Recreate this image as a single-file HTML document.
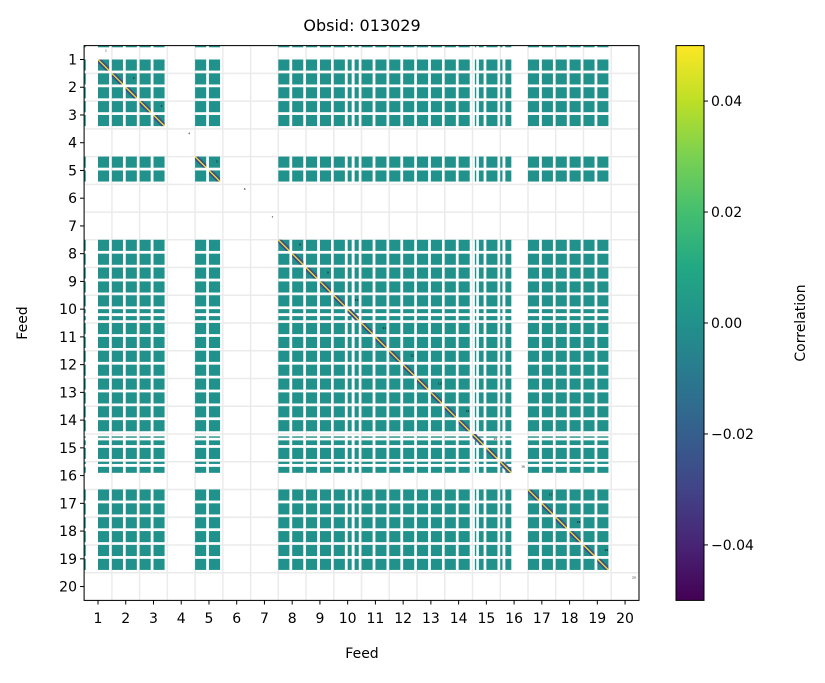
<!DOCTYPE html>
<html><head><meta charset="utf-8"><style>
body{margin:0;background:#fff;}
svg text{font-family:"DejaVu Sans","Liberation Sans",sans-serif;fill:#000;}
</style></head><body>
<svg id="chart" width="825" height="678" viewBox="0 0 825 678" xmlns="http://www.w3.org/2000/svg">
<defs>
<linearGradient id="viridis" x1="0" y1="1" x2="0" y2="0">
<stop offset="0" stop-color="#440154"/><stop offset="0.1" stop-color="#482475"/><stop offset="0.2" stop-color="#414487"/><stop offset="0.3" stop-color="#355f8d"/><stop offset="0.4" stop-color="#2a788e"/><stop offset="0.5" stop-color="#21918c"/><stop offset="0.6" stop-color="#22a884"/><stop offset="0.7" stop-color="#44bf70"/><stop offset="0.8" stop-color="#7ad151"/><stop offset="0.9" stop-color="#bddf26"/><stop offset="1" stop-color="#fde725"/>
</linearGradient>
<clipPath id="plotclip"><rect x="84.1" y="45.6" width="554.9" height="554.8"/></clipPath>
</defs>
<text x="362" y="31" font-size="16" text-anchor="middle">Obsid: 013029</text>
<g id="grid"></g>
<g id="cells" clip-path="url(#plotclip)"></g>
<rect x="84.1" y="45.6" width="554.9" height="554.8" fill="none" stroke="#000" stroke-width="1"/>
<g id="ticks"></g>
<text x="362" y="658" font-size="14" text-anchor="middle">Feed</text>
<text x="27" y="323" font-size="14" text-anchor="middle" transform="rotate(-90 27 323)">Feed</text>
<rect x="676" y="45.6" width="28" height="554.8" fill="url(#viridis)" stroke="#000" stroke-width="1"/>
<g id="cbticks"></g>
<text x="805" y="323" font-size="14" text-anchor="middle" transform="rotate(-90 805 323)">Correlation</text>
</svg>
<script>
const feeds = [1,2,3,4,5,6,7,8,9,10,11,12,13,14,15,16,17,18,19,20];
const validFeeds = [1,2,3,5,8,9,10,11,12,13,14,15,16,17,18,19];
const offDiagValues = [0,0,0,0,0,0,0,0,0,0,0,0,0,0,0,0,0,0,0,0];
const cbTicks = [-0.04,-0.02,0.00,0.02,0.04];
const cbTickLabels = ["\u22120.04","\u22120.02","0.00","0.02","0.04"];
const emptySubBlocks = [30];
const partialSubBlocks = {"-1":[[0,0.12]],"18":[[0,0.29],[0.5,0.8]],"27":[[0.17,0.27],[0.46,0.8]],"29":[[0,0.16],[0.37,0.8]]};
const cmin=-0.05, cmax=0.05;

const NS="http://www.w3.org/2000/svg";
const X0=98, Y0=59.5, STEP=27.74;
function xFeed(f){return X0+STEP*(f-1);}
function yFeed(f){return Y0+STEP*(f-1);}
function cbY(v){return 600.4-(v-cmin)/(cmax-cmin)*554.8;}
const vir=["#440154","#482475","#414487","#355f8d","#2a788e","#21918c","#22a884","#44bf70","#7ad151","#bddf26","#fde725"];
function hex(c){return [1,3,5].map(i=>parseInt(c.substr(i,2),16));}
function cmap(v){let t=Math.max(0,Math.min(1,(v-cmin)/(cmax-cmin)))*10;let i=Math.min(9,Math.floor(t)),u=t-i;
 const a=hex(vir[i]),b=hex(vir[i+1]);return "rgb("+a.map((x,k)=>Math.round(x+(b[k]-x)*u)).join(",")+")";}
function mk(tag,attrs,parent){const e=document.createElementNS(NS,tag);for(const k in attrs)e.setAttribute(k,attrs[k]);parent.appendChild(e);return e;}

const grid=document.getElementById('grid'),cells=document.getElementById('cells'),ticks=document.getElementById('ticks'),cbt=document.getElementById('cbticks');
for(let i=0;i<=20;i++){
 const gx=mk('line',{x1:xFeed(i+0.5),x2:xFeed(i+0.5),y1:45.6,y2:600.4,stroke:'#ebebeb','stroke-width':1.5},grid);
 
 
 const gy=mk('line',{x1:84.1,x2:639,y1:yFeed(i+0.5),y2:yFeed(i+0.5),stroke:'#ebebeb','stroke-width':1.5},grid);
 
 
}
function subIntervals(j){if(emptySubBlocks.includes(j))return [];return partialSubBlocks[j]||[[0,0.8]];}
const subs=[];
validFeeds.forEach(f=>{subs.push({j:2*f-3,f:f});subs.push({j:2*f-2,f:f});});
const H=STEP/2;
subs.forEach(r=>{subs.forEach(c=>{
 const ri=subIntervals(r.j),ci=subIntervals(c.j);
 const val=offDiagValues[r.f-1];
 const bx=xFeed(c.f)-H+(c.j-(2*c.f-3))*H, by=yFeed(r.f)-H+(r.j-(2*r.f-3))*H;
 ri.forEach(a=>ci.forEach(b=>{
  const rc=mk('rect',{x:bx+b[0]*H,y:by+a[0]*H,width:(b[1]-b[0])*H,height:(a[1]-a[0])*H,fill:cmap(val)},cells);
  
  
 }));
 if(r.j===c.j && r.j>=0 && ri.length){
  const s=0.8*H;
  const d=mk('polygon',{points:`${bx},${by} ${bx+3.5},${by} ${bx+s},${by+s-3.5} ${bx+s},${by+s} ${bx+s-3.5},${by+s} ${bx},${by+3.5}`,fill:'#3b528b'},cells);
  
  
  const l=mk('line',{x1:bx,y1:by,x2:bx+s,y2:by+s,stroke:'#fde725','stroke-width':1.2},cells);
  
  
 }
});});
feeds.forEach(f=>{
 const t=mk('text',{x:xFeed(f)+7,y:yFeed(f)-8,'font-size':3,fill:'#555'},cells);
 t.textContent=f;
 
 
 const tx=mk('line',{x1:xFeed(f),x2:xFeed(f),y1:600.4,y2:604.5,stroke:'#000'},ticks);
 
 
 const lx=mk('text',{x:xFeed(f),y:623,'font-size':14,'text-anchor':'middle'},ticks);
 lx.textContent=f;
 
 
 const ty=mk('line',{x1:80,x2:84.1,y1:yFeed(f),y2:yFeed(f),stroke:'#000'},ticks);
 
 
 const ly=mk('text',{x:77,y:yFeed(f)+5,'font-size':14,'text-anchor':'end'},ticks);
 ly.textContent=f;
 
 
});
cbTicks.forEach((v,i)=>{
 const y=cbY(v);
 const t=mk('line',{x1:704,x2:708,y1:y,y2:y,stroke:'#000'},cbt);
 
 
 const l=mk('text',{x:711,y:y+5,'font-size':14},cbt);
 l.textContent=cbTickLabels[i];
 
 
});
</script>
</body></html>
